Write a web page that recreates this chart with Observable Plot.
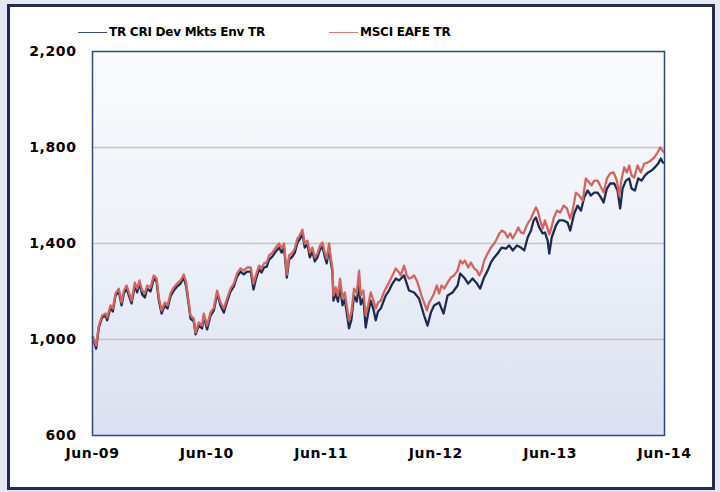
<!DOCTYPE html>
<html>
<head>
<meta charset="utf-8">
<script src="https://cdn.jsdelivr.net/npm/d3@7"></script>
<script src="https://cdn.jsdelivr.net/npm/@observablehq/plot@0.6"></script>
<style>
  html, body { margin: 0; padding: 0; background: #e5e7f2; }
  #wrap { position: relative; width: 720px; height: 492px; background: #e5e7f2; overflow: hidden; }
  #frame { position: absolute; left: 7px; top: 4px; width: 708px; height: 486px; box-sizing: border-box;
           border: 3.5px solid #262a52; background: #ffffff; }
  #chart { position: absolute; left: 0; top: 0; }
  .leg { position: absolute; top: 24px; height: 16px; display: flex; align-items: center;
         font-family: 'DejaVu Sans', Verdana, sans-serif; font-weight: bold; font-size: 12px; letter-spacing: -0.25px; color: #000; white-space: nowrap; }
  .leg .sw { display: inline-block; width: 29px; height: 0; border-top: 1.5px solid; margin-right: 2px; }
</style>
</head>
<body>
<div id="wrap">
  <div id="frame"></div>
  <div id="chart"></div>
  <div class="leg" style="left:78px"><span class="sw" style="border-color:#3a4d78"></span><span id="leg1"></span></div>
  <div class="leg" style="left:329px"><span class="sw" style="border-color:#e07a74"></span><span id="leg2"></span></div>
</div>
<script>
// ---- data (decimal years, index values) ----
const seriesNames = ["TR CRI Dev Mkts Env TR", "MSCI EAFE TR"];
const xTickYears = [2009, 2010, 2011, 2012, 2013, 2014];
const yTicks = [600, 1000, 1400, 1800, 2200];
const gridValues = [1000, 1400, 1800];

const msciDates = [2009.417,2009.446,2009.469,2009.498,2009.528,2009.542,2009.572,2009.592,2009.615,2009.644,2009.668,2009.688,2009.712,2009.732,2009.755,2009.784,2009.804,2009.825,2009.848,2009.872,2009.892,2009.921,2009.950,2009.974,2009.994,2010.018,2010.046,2010.070,2010.096,2010.125,2010.154,2010.184,2010.212,2010.233,2010.256,2010.271,2010.300,2010.315,2010.344,2010.372,2010.387,2010.416,2010.446,2010.475,2010.504,2010.533,2010.562,2010.591,2010.621,2010.650,2010.678,2010.708,2010.737,2010.766,2010.798,2010.822,2010.842,2010.871,2010.892,2010.914,2010.938,2010.958,2010.988,2011.017,2011.046,2011.067,2011.089,2011.113,2011.133,2011.163,2011.183,2011.206,2011.226,2011.250,2011.270,2011.294,2011.314,2011.337,2011.358,2011.381,2011.404,2011.425,2011.445,2011.462,2011.483,2011.497,2011.512,2011.521,2011.541,2011.561,2011.579,2011.600,2011.620,2011.637,2011.657,2011.678,2011.701,2011.725,2011.745,2011.760,2011.783,2011.803,2011.824,2011.847,2011.871,2011.891,2011.911,2011.935,2011.958,2011.978,2012.007,2012.037,2012.066,2012.095,2012.109,2012.138,2012.162,2012.182,2012.203,2012.226,2012.249,2012.269,2012.290,2012.313,2012.337,2012.357,2012.378,2012.400,2012.424,2012.444,2012.465,2012.488,2012.518,2012.546,2012.575,2012.605,2012.628,2012.649,2012.669,2012.698,2012.721,2012.750,2012.774,2012.794,2012.815,2012.837,2012.867,2012.896,2012.925,2012.949,2012.969,2012.992,2013.018,2013.042,2013.065,2013.086,2013.115,2013.135,2013.158,2013.182,2013.202,2013.222,2013.246,2013.269,2013.289,2013.304,2013.327,2013.348,2013.368,2013.392,2013.406,2013.427,2013.444,2013.473,2013.502,2013.532,2013.560,2013.589,2013.610,2013.639,2013.668,2013.698,2013.726,2013.755,2013.776,2013.799,2013.829,2013.851,2013.881,2013.910,2013.939,2013.969,2013.997,2014.017,2014.039,2014.061,2014.085,2014.105,2014.126,2014.149,2014.178,2014.207,2014.236,2014.266,2014.295,2014.323,2014.353,2014.376,2014.397,2014.411];
const msciValues = [1012,975,1058,1100,1108,1092,1142,1129,1192,1212,1154,1204,1225,1196,1162,1237,1212,1246,1204,1192,1225,1217,1267,1254,1175,1121,1154,1142,1192,1217,1233,1246,1271,1237,1154,1100,1087,1029,1071,1058,1108,1058,1112,1133,1204,1154,1129,1171,1212,1233,1275,1296,1287,1300,1300,1233,1267,1308,1296,1317,1321,1350,1362,1383,1400,1379,1400,1270,1350,1362,1379,1421,1433,1458,1400,1412,1362,1383,1342,1358,1392,1404,1362,1337,1400,1342,1300,1183,1217,1183,1254,1171,1196,1142,1079,1112,1212,1192,1287,1183,1204,1100,1142,1196,1162,1129,1154,1162,1192,1212,1237,1267,1296,1279,1267,1308,1267,1254,1258,1267,1246,1217,1183,1154,1121,1154,1171,1192,1225,1192,1225,1212,1237,1258,1267,1287,1329,1317,1329,1300,1321,1296,1287,1267,1287,1329,1358,1383,1400,1421,1442,1454,1446,1425,1442,1421,1446,1467,1446,1442,1467,1487,1504,1529,1550,1537,1496,1462,1496,1462,1438,1470,1504,1537,1529,1558,1546,1504,1537,1612,1600,1579,1671,1654,1642,1662,1662,1642,1612,1671,1692,1696,1662,1600,1671,1717,1696,1725,1683,1675,1725,1696,1733,1737,1746,1758,1779,1800,1787,1779];

const trDates = [2009.417,2009.446,2009.469,2009.498,2009.528,2009.542,2009.572,2009.592,2009.615,2009.644,2009.668,2009.688,2009.712,2009.732,2009.755,2009.784,2009.804,2009.825,2009.848,2009.872,2009.892,2009.921,2009.950,2009.974,2009.994,2010.018,2010.046,2010.070,2010.096,2010.125,2010.154,2010.184,2010.212,2010.233,2010.256,2010.271,2010.300,2010.315,2010.344,2010.372,2010.387,2010.416,2010.446,2010.475,2010.504,2010.533,2010.562,2010.591,2010.621,2010.650,2010.678,2010.708,2010.737,2010.766,2010.798,2010.822,2010.842,2010.871,2010.892,2010.914,2010.938,2010.958,2010.988,2011.017,2011.046,2011.067,2011.089,2011.113,2011.133,2011.163,2011.183,2011.206,2011.226,2011.250,2011.270,2011.294,2011.314,2011.337,2011.358,2011.381,2011.404,2011.425,2011.445,2011.462,2011.483,2011.497,2011.512,2011.521,2011.541,2011.561,2011.579,2011.600,2011.620,2011.637,2011.657,2011.678,2011.701,2011.725,2011.745,2011.760,2011.783,2011.803,2011.824,2011.847,2011.871,2011.891,2011.911,2011.935,2011.958,2011.978,2012.007,2012.037,2012.066,2012.095,2012.138,2012.182,2012.226,2012.269,2012.313,2012.343,2012.372,2012.400,2012.444,2012.483,2012.518,2012.561,2012.605,2012.628,2012.669,2012.698,2012.736,2012.774,2012.802,2012.832,2012.867,2012.896,2012.925,2012.954,2012.989,2013.027,2013.056,2013.086,2013.123,2013.158,2013.187,2013.217,2013.246,2013.269,2013.289,2013.318,2013.348,2013.368,2013.392,2013.406,2013.427,2013.464,2013.493,2013.532,2013.566,2013.589,2013.624,2013.654,2013.683,2013.711,2013.741,2013.770,2013.799,2013.829,2013.857,2013.881,2013.910,2013.939,2013.974,2014.003,2014.026,2014.047,2014.076,2014.105,2014.126,2014.155,2014.184,2014.213,2014.242,2014.271,2014.301,2014.329,2014.358,2014.382,2014.399,2014.411];
const trValues = [1008,962,1050,1092,1100,1080,1133,1117,1183,1200,1142,1192,1212,1183,1150,1225,1196,1233,1188,1175,1212,1200,1254,1242,1162,1108,1142,1129,1179,1204,1221,1233,1258,1221,1142,1087,1075,1021,1058,1046,1096,1042,1100,1121,1192,1142,1112,1158,1200,1221,1262,1283,1271,1283,1283,1208,1250,1292,1279,1300,1304,1333,1346,1367,1383,1362,1383,1258,1333,1346,1362,1404,1417,1442,1383,1396,1342,1367,1325,1342,1375,1387,1346,1317,1383,1325,1283,1162,1192,1158,1225,1142,1167,1112,1046,1083,1183,1158,1225,1146,1171,1050,1108,1162,1125,1080,1117,1129,1158,1183,1204,1233,1254,1246,1267,1204,1196,1171,1100,1058,1112,1142,1154,1108,1183,1196,1225,1275,1254,1233,1254,1233,1212,1254,1287,1321,1342,1358,1383,1379,1392,1371,1392,1383,1371,1425,1454,1496,1508,1467,1442,1446,1412,1358,1425,1475,1496,1496,1487,1454,1525,1558,1537,1592,1621,1600,1612,1612,1592,1571,1629,1650,1650,1621,1546,1629,1662,1671,1629,1621,1671,1662,1683,1696,1704,1717,1733,1754,1737,1737];

// ---- helpers ----
function decToDate(t) {
  const y = Math.floor(t);
  const start = Date.UTC(y, 0, 1), end = Date.UTC(y + 1, 0, 1);
  return new Date(start + (t - y) * (end - start));
}
const tr = trDates.map((t, i) => ({date: decToDate(t), value: trValues[i]}));
const msci = msciDates.map((t, i) => ({date: decToDate(t), value: msciValues[i]}));
const xTicks = xTickYears.map(y => new Date(Date.UTC(y, 5, 1)));

document.getElementById("leg1").textContent = seriesNames[0];
document.getElementById("leg2").textContent = seriesNames[1];

const chart = Plot.plot({
  width: 720,
  height: 492,
  marginLeft: 92,
  marginRight: 56,
  marginTop: 51,
  marginBottom: 57,
  style: {background: "transparent", fontFamily: "'DejaVu Sans', Verdana, sans-serif", fontSize: "14px", fontWeight: "bold", color: "#000", letterSpacing: "0.6px"},
  x: {type: "utc", domain: [xTicks[0], xTicks[xTicks.length - 1]], ticks: xTicks, tickFormat: d3.utcFormat("%b-%y"), tickSize: 0, tickPadding: 13, label: null},
  y: {domain: [600, 2200], ticks: yTicks, tickFormat: d3.format(","), tickSize: 0, tickPadding: 16, label: null},
  marks: [
    Plot.frame({fill: "url(#plotBg)"}),
    Plot.ruleY(gridValues, {stroke: "#c4c4c4", strokeWidth: 1.5}),
    Plot.lineY(tr, {x: "date", y: "value", stroke: "#1d2b4f", strokeWidth: 2.3}),
    Plot.lineY(msci, {x: "date", y: "value", stroke: "#cf6661", strokeWidth: 2.3}),
    Plot.frame({stroke: "#2f4a78", strokeWidth: 1.5})
  ]
});

// gradient background for plot area
const ns = "http://www.w3.org/2000/svg";
const defs = document.createElementNS(ns, "defs");
const grad = document.createElementNS(ns, "linearGradient");
grad.setAttribute("id", "plotBg");
grad.setAttribute("x1", "0"); grad.setAttribute("y1", "0");
grad.setAttribute("x2", "0"); grad.setAttribute("y2", "1");
[["0", "#fafbfe"], ["0.5", "#eef1f8"], ["1", "#d9e0f0"]].forEach(([o, c]) => {
  const s = document.createElementNS(ns, "stop");
  s.setAttribute("offset", o); s.setAttribute("stop-color", c);
  grad.appendChild(s);
});
defs.appendChild(grad);
chart.insertBefore(defs, chart.firstChild);
document.getElementById("chart").appendChild(chart);
</script>
</body>
</html>
